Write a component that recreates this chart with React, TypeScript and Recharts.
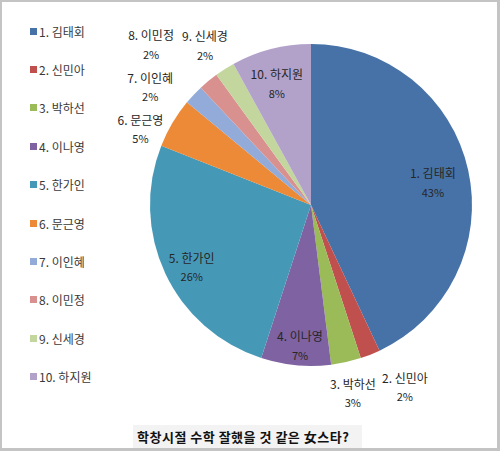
import { Pie, PieChart } from "recharts";

// 학창시절 수학 잘했을 것 같은 女스타 — survey share per actress (%)
const names = [
  "1. 김태회",
  "2. 신민아",
  "3. 박하선",
  "4. 이나영",
  "5. 한가인",
  "6. 문근영",
  "7. 이인혜",
  "8. 이민정",
  "9. 신세경",
  "10. 하지원",
];
const shares = [43, 2, 3, 7, 26, 5, 2, 2, 2, 8];

const colors = [
  "#4672A8",
  "#C0504D",
  "#9BBB59",
  "#7F62A1",
  "#4699B6",
  "#EC8A37",
  "#93ABD8",
  "#D9918F",
  "#C2D69E",
  "#B2A2C9",
];

// label placement (px from centre, clockwise nudge in degrees) — big slices inside, small outside
const labelRadius = [124, 204, 192, 140, 134, 187, 200, 227, 192, 127];
const labelNudge = [1.9, -5.8, 0, -0.9, -1.9, -6.4, -6.7, -5.2, -1.1, -1.2];

const TITLE = "학창시절 수학 잘했을 것 같은 女스타?";
const FONT = '"Noto Sans CJK KR", "Noto Sans", sans-serif';
const RADIAN = Math.PI / 180;

const data = names.map((name, i) => ({ name, value: shares[i], fill: colors[i] }));

function SliceLabel(props: any) {
  const { cx, cy, midAngle, index, name, value } = props;
  const r = labelRadius[index];
  const a = (midAngle - labelNudge[index]) * RADIAN;
  const x = cx + r * Math.cos(a);
  const y = cy - r * Math.sin(a);
  return (
    <g fontFamily={FONT} fill="#262626">
      <text x={x} y={y - 9} textAnchor="middle" dominantBaseline="central" fontSize={12}>
        {name}
      </text>
      <text x={x} y={y + 10} textAnchor="middle" dominantBaseline="central" fontSize={11}>
        {`${value}%`}
      </text>
    </g>
  );
}

// Legend kept outside the chart so it doesn't shift the pie's centre (and keeps data order)
function LegendList() {
  return (
    <div
      style={{
        position: "absolute",
        left: 30,
        top: 12,
        fontFamily: FONT,
        fontSize: 12,
        color: "#3a3a3a",
      }}
    >
      {names.map((n, i) => (
        <div key={n} style={{ display: "flex", alignItems: "center", height: 38.4 }}>
          <span style={{ width: 7, height: 7, background: colors[i], marginRight: 2 }} />
          <span>{n}</span>
        </div>
      ))}
    </div>
  );
}

export default function App() {
  return (
    <div style={{ position: "relative", width: 500, height: 451, background: "#fff", overflow: "hidden" }}>
      <style>{"body{margin:0}"}</style>
      <div style={{ position: "absolute", left: 0, top: 0 }}>
        <PieChart width={500} height={451} margin={{ top: 0, right: 0, bottom: 0, left: 0 }}>
          <Pie
            data={data}
            dataKey="value"
            nameKey="name"
            cx={311}
            cy={205}
            outerRadius={161}
            startAngle={90}
            endAngle={-270}
            stroke="none"
            label={SliceLabel}
            labelLine={false}
            isAnimationActive={false}
          />
        </PieChart>
      </div>
      <LegendList />
      <div
        style={{
          position: "absolute",
          left: 133,
          top: 425,
          width: 229,
          height: 23,
          background: "#f3f3f3",
          fontFamily: FONT,
          fontWeight: 700,
          fontSize: 13,
          letterSpacing: 0.5,
          lineHeight: "23px",
          paddingLeft: 4,
          boxSizing: "border-box",
          color: "#111",
          whiteSpace: "nowrap",
        }}
      >
        {TITLE}
      </div>
      <div
        style={{
          position: "absolute",
          inset: 0,
          borderStyle: "solid",
          borderColor: "#c4c4c4",
          borderWidth: "2px 3px 3px 2px",
          pointerEvents: "none",
        }}
      />
    </div>
  );
}
